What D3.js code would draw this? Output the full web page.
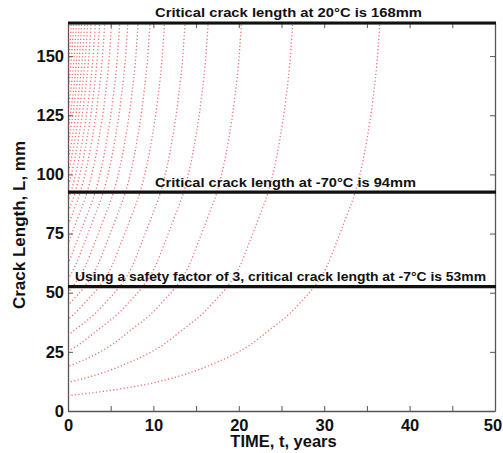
<!DOCTYPE html>
<html>
<head>
<meta charset="utf-8">
<script src="https://cdn.jsdelivr.net/npm/d3@7"></script>
<style>
  body { margin: 0; background: #fff; }
  text { font-family: "Liberation Sans", Arial, sans-serif; font-weight: bold; }
</style>
</head>
<body>
<div id="chart"></div>
<script>
// lowest growth curve (crack starting at ~6.5 mm)
var baseTime   = [0, 3.7, 7.6, 10, 12.3, 15.4, 17.4, 18.9, 21.3, 23.6, 26.0, 27.5, 28.7, 30.3, 31.4, 32.6, 33.6, 34.4, 35.0, 35.7, 36.3, 36.5];
var baseLength = [6.5, 8.1, 10.2, 11.9, 14.0, 17.6, 20.6, 23.0, 27.9, 34.3, 41.3, 47.0, 51.9, 61.0, 70.9, 82.2, 92.1, 103.3, 114.6, 131.6, 152.7, 164];
// time at which each curve reaches the top of the plot (bigger initial cracks get there sooner)
var topHitTime = [36.5, 26.3, 20.3, 16.4, 13.7, 11.3, 9.6, 8.2, 7.0, 6.05, 5.1, 4.3, 3.7, 3.2, 2.7, 2.3, 1.96, 1.6, 1.3, 0.98, 0.67, 0.4, 0.1];

var criticalLengths = [164, 92.5, 52.6];
var criticalLabels = [
  "Critical crack length at 20\u00B0C is 168mm",
  "Critical crack length at -70\u00B0C is 94mm",
  "Using a safety factor of 3, critical crack length at -7\u00B0C is 53mm"
];

var xTicks = [0, 5, 10, 15, 20, 25, 30, 35, 40, 45, 50];
var xTickLabels = [0, 10, 20, 30, 40, 50];
var yTicks = [0, 25, 50, 75, 100, 125, 150];

var margin = {top: 23, right: 8, bottom: 42, left: 68},
    width = 503, height = 453,
    w = width - margin.left - margin.right,
    h = height - margin.top - margin.bottom;

var svg = d3.select("#chart").append("svg")
    .attr("width", width)
    .attr("height", height);

var g = svg.append("g")
    .attr("transform", "translate(" + margin.left + "," + margin.top + ")");

var x = d3.scaleLinear().domain([0, 50]).range([0, w]);
var y = d3.scaleLinear().domain([0, 164]).range([h, 0]);

g.append("clipPath").attr("id", "plotclip")
  .append("rect").attr("x", 0).attr("y", -2).attr("width", w).attr("height", h + 2);

// axes with inward ticks (box on all four sides)
var axisColor = "#555";
var xAxisB = g.append("g").attr("transform", "translate(0," + h + ")")
  .call(d3.axisBottom(x).tickValues(xTicks).tickSizeInner(-5).tickSizeOuter(0)
    .tickFormat(function(d) { return xTickLabels.indexOf(d) >= 0 ? d : ""; }));
var xAxisT = g.append("g")
  .call(d3.axisTop(x).tickValues(xTicks).tickSizeInner(-5).tickSizeOuter(0).tickFormat(""));
var yAxisL = g.append("g")
  .call(d3.axisLeft(y).tickValues(yTicks).tickSizeInner(-5).tickSizeOuter(0));
var yAxisR = g.append("g").attr("transform", "translate(" + w + ",0)")
  .call(d3.axisRight(y).tickValues(yTicks).tickSizeInner(-5).tickSizeOuter(0).tickFormat(""));

[xAxisB, xAxisT, yAxisL, yAxisR].forEach(function(a) {
  a.select(".domain").attr("stroke", axisColor).attr("stroke-width", 1.3);
  a.selectAll(".tick line").attr("stroke", axisColor);
  a.selectAll(".tick text").attr("fill", "#111").style("font-size", "16.5px").style("font-weight", "bold")
    .style("font-family", "'Liberation Sans', Arial, sans-serif");
});
xAxisB.selectAll(".tick text").attr("dy", "1.0em");
// keep the last label inside the window
xAxisB.selectAll(".tick text").filter(function(d) { return d === 50; }).attr("dx", "-2.5px");
yAxisL.selectAll(".tick text").attr("dx", "-1px");

// crack growth curves: the base curve moved left so that it reaches the top at topHitTime
var line = d3.line()
    .x(function(d) { return x(d.t); })
    .y(function(d) { return y(d.L); })
    .curve(d3.curveMonotoneX);

var curves = topHitTime.map(function(hit) {
  var shift = baseTime[baseTime.length - 1] - hit;
  return baseTime.map(function(t, i) { return {t: t - shift, L: baseLength[i]}; });
});

g.append("g").attr("clip-path", "url(#plotclip)")
  .selectAll("path.crack")
  .data(curves)
  .enter().append("path")
  .attr("class", "crack")
  .attr("d", line)
  .attr("fill", "none")
  .attr("stroke", "#f03a3a")
  .attr("stroke-opacity", 0.75)
  .attr("stroke-width", 1.3)
  .attr("stroke-dasharray", "1.2,2.3");

// critical length lines
g.selectAll("line.crit")
  .data(criticalLengths)
  .enter().append("line")
  .attr("class", "crit")
  .attr("x1", 0).attr("x2", w + 1)
  .attr("y1", function(d) { return y(d); })
  .attr("y2", function(d) { return y(d); })
  .attr("stroke", "#111")
  .attr("stroke-width", 3.2);

var labelPos = [
  {x: 87, dy: -6, len: 267},
  {x: 87, dy: -5, len: 261},
  {x: 7, dy: -6, len: 411}
];
g.selectAll("text.crit")
  .data(criticalLabels)
  .enter().append("text")
  .attr("class", "crit")
  .attr("x", function(d, i) { return labelPos[i].x; })
  .attr("y", function(d, i) { return y(criticalLengths[i]) + labelPos[i].dy; })
  .attr("textLength", function(d, i) { return labelPos[i].len; })
  .attr("lengthAdjust", "spacingAndGlyphs")
  .style("font-size", "12.5px")
  .attr("fill", "#111")
  .text(function(d) { return d; });

// axis titles
svg.append("text")
  .attr("x", margin.left + w / 2 + 2)
  .attr("y", 447)
  .attr("text-anchor", "middle")
  .style("font-size", "16.5px")
  .attr("fill", "#111")
  .text("TIME, t, years");

svg.append("text")
  .attr("transform", "translate(25," + 225 + ") rotate(-90)")
  .attr("text-anchor", "middle")
  .style("font-size", "17px")
  .attr("fill", "#111")
  .text("Crack Length, L, mm");
</script>
</body>
</html>
